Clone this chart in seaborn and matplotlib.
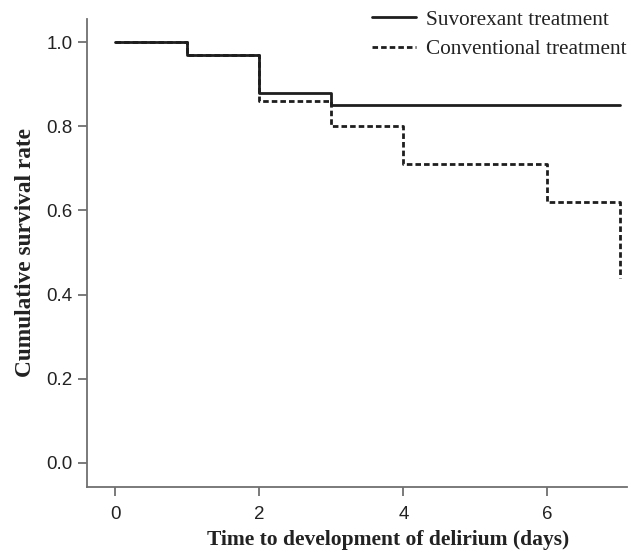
import pandas as pd
import matplotlib
matplotlib.use('Agg')
import matplotlib.pyplot as plt
import seaborn as sns

# Kaplan-Meier estimates
suvo_days = [0, 1, 2, 3, 7]
suvo_surv = [1.0, 0.97, 0.88, 0.85, 0.85]
conv_days = [0, 1, 2, 3, 4, 6, 7, 7]
conv_surv = [1.0, 0.97, 0.86, 0.80, 0.71, 0.62, 0.62, 0.44]
groups = ['Suvorexant treatment', 'Conventional treatment']
y_ticks = [0.0, 0.2, 0.4, 0.6, 0.8, 1.0]
x_ticks = [0, 2, 4, 6]

dados = pd.concat([
    pd.DataFrame({'day': suvo_days, 'surv': suvo_surv, 'group': groups[0]}),
    pd.DataFrame({'day': conv_days, 'surv': conv_surv, 'group': groups[1]}),
], ignore_index=True)

sns.set_style('ticks')
plt.rcParams['font.family'] = ['Liberation Sans', 'DejaVu Sans']

fig = plt.figure(figsize=(6.32, 5.52), dpi=100)
ax = fig.add_axes([0.1377, 0.1178, 0.854, 0.8478])

sns.lineplot(data=dados, x='day', y='surv', style='group', style_order=groups,
             dashes={groups[0]: '', groups[1]: (2.0, 1.1)},
             color='#1e1e1e', linewidth=2.0, drawstyle='steps-post',
             estimator=None, sort=False, legend=False, ax=ax)

ax.set_xlim(-0.39, 7.1)
ax.set_ylim(-0.057, 1.055)
ax.set_xticks(x_ticks)
ax.set_yticks(y_ticks)
ax.set_yticklabels([f'{v:.1f}' for v in y_ticks])
ax.tick_params(labelsize=13.5, length=6.5, width=1.3, color='#707070', labelcolor='#222222')
ax.tick_params(axis='x', pad=7)
ax.tick_params(axis='y', pad=4)

for side in ['top', 'right']:
    ax.spines[side].set_visible(False)
for side in ['left', 'bottom']:
    ax.spines[side].set_color('#707070')
    ax.spines[side].set_linewidth(1.3)

serif = ['Liberation Serif', 'DejaVu Serif']
ax.set_xlabel('Time to development of delirium (days)', family=serif, fontweight='bold',
              fontsize=15.5, color='#222222', labelpad=5)
ax.xaxis.label.set_x(0.557)
ax.set_ylabel('Cumulative survival rate', family=serif, fontweight='bold',
              fontsize=16.8, color='#222222', labelpad=7)

leg = ax.legend(ax.get_lines(), groups, loc='upper right', bbox_to_anchor=(1.027, 1.051),
                frameon=False, handlelength=2.1, handletextpad=0.45, labelspacing=0.44,
                borderpad=0.2, prop={'family': serif, 'size': 15.3})
for t in leg.get_texts():
    t.set_color('#222222')

fig.savefig('out.png', dpi=100)
